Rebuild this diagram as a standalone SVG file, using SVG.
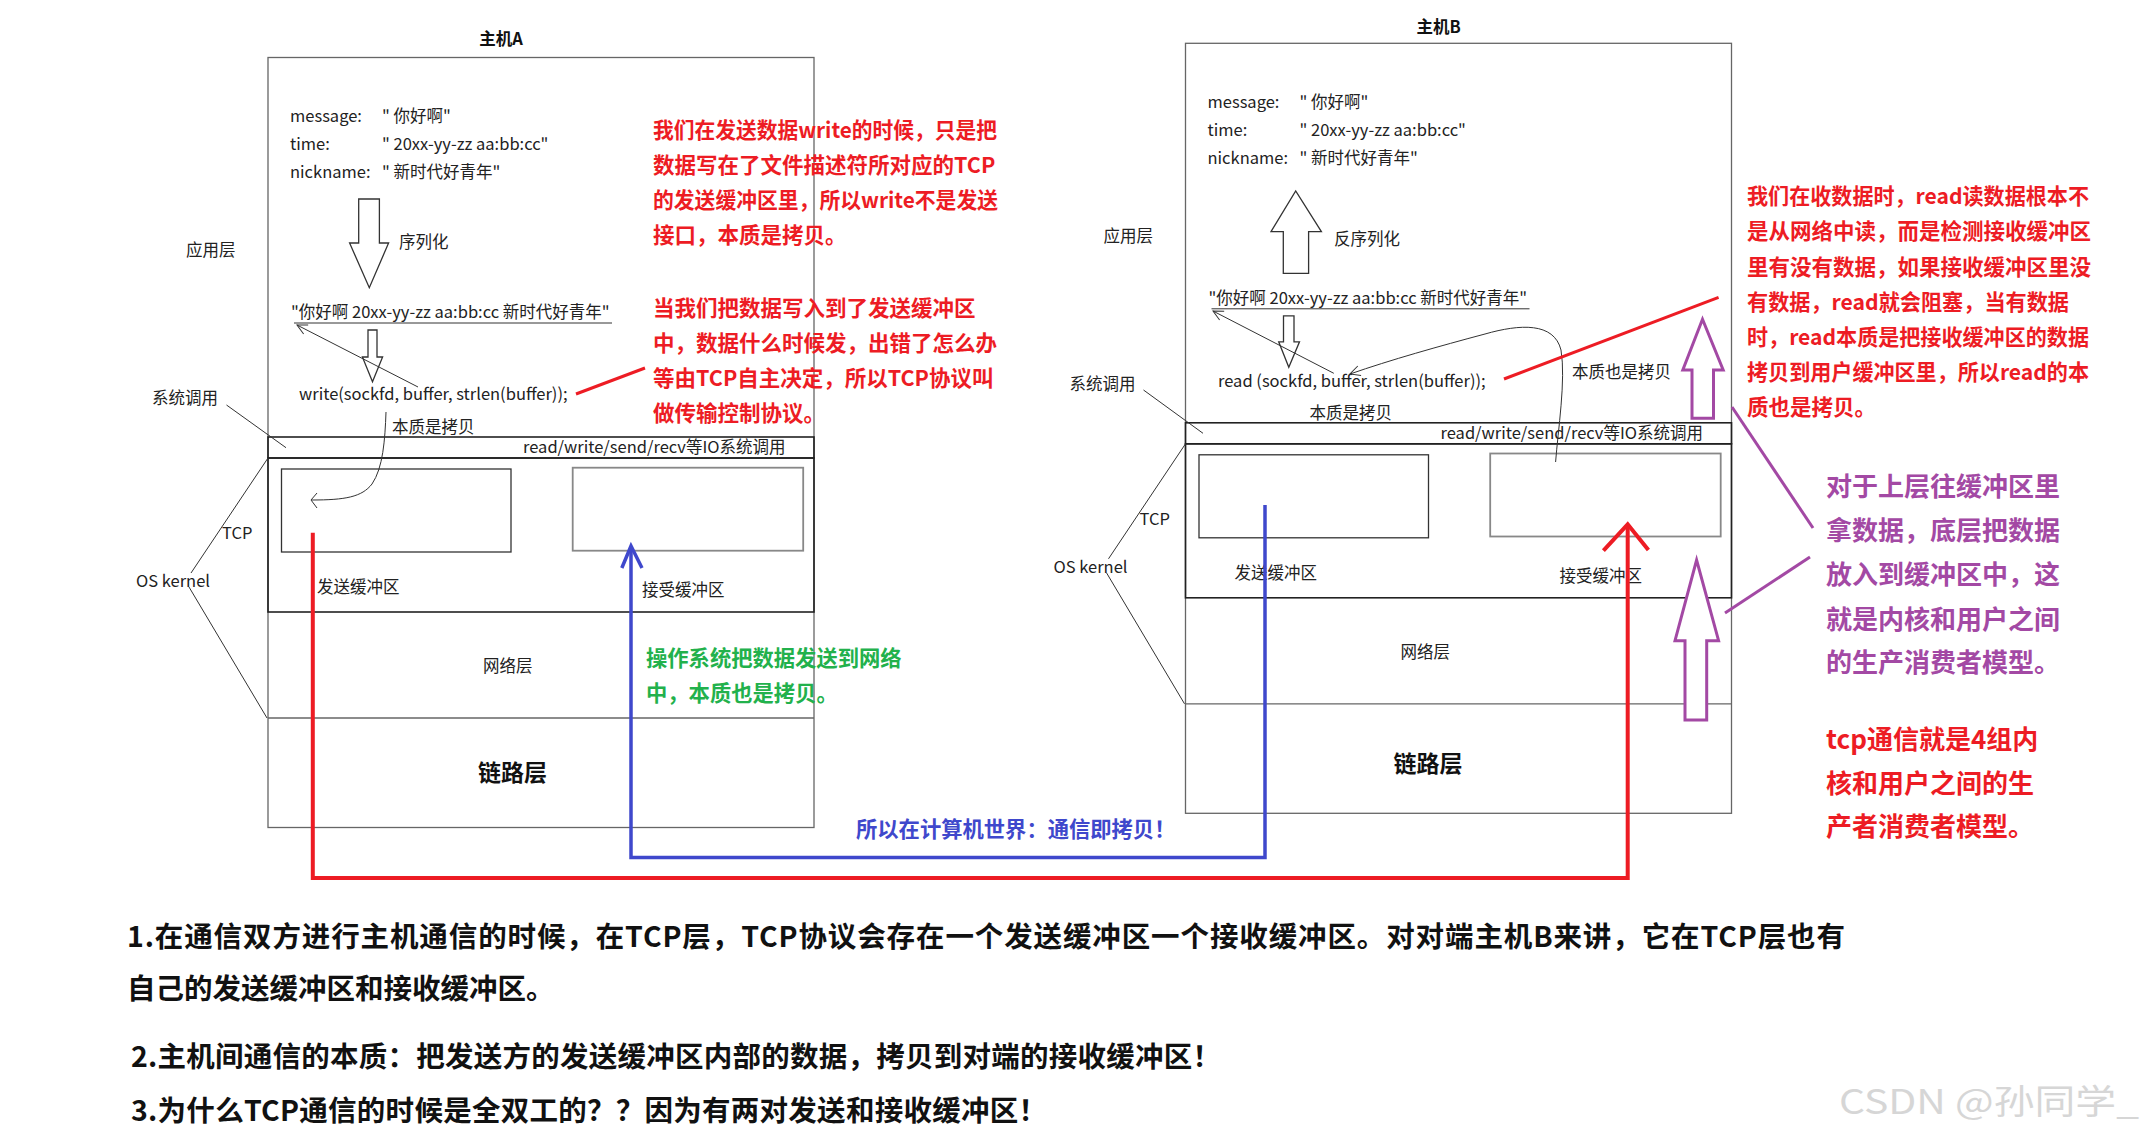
<svg xmlns="http://www.w3.org/2000/svg" width="2144" height="1137" viewBox="0 0 2144 1137">
<style>
text{font-family:"Noto Sans CJK SC","Noto Sans",sans-serif;fill:#222;font-size:16.5px}
.title{font-weight:bold;font-size:16.5px;fill:#111}
.big{font-weight:bold;font-size:23px;fill:#111}
.frame{fill:none;stroke:#666;stroke-width:1.3}
.tcp{fill:none;stroke:#222;stroke-width:1.6}
.buf{fill:none;stroke:#333;stroke-width:1.3}
.buf2{fill:none;stroke:#888;stroke-width:1.8}
.thin{fill:none;stroke:#333;stroke-width:1}
.hollow{fill:#fff;stroke:#333;stroke-width:1.3}
.red{fill:#ed1c24;font-weight:bold;font-size:21.5px}
.purple{fill:#a349a4;font-weight:bold;font-size:26px}
.red2{fill:#ed1c24;font-weight:bold;font-size:26px}
.green{fill:#22b14c;font-weight:bold;font-size:21.3px}
.blue{fill:#3f48cc;font-weight:bold;font-size:21.3px}
.note{fill:#111;font-weight:bold;font-size:28.5px}
.wm{fill:#d6d6d6;font-size:34px}
</style>
<defs>
<marker id="thinArrow" viewBox="0 0 12 12" refX="11" refY="6" markerWidth="12" markerHeight="12" markerUnits="userSpaceOnUse" orient="auto">
<path d="M1,1 L11,6 L1,11" fill="none" stroke="#333" stroke-width="1"/>
</marker>
</defs>
<rect width="2144" height="1137" fill="#fff"/>

<g id="hostA">
<text class="title" x="501" y="45" text-anchor="middle">主机A</text>
<rect class="frame" x="268" y="57.5" width="546" height="770"/>
<rect class="tcp" x="268" y="437" width="546" height="21"/>
<rect class="tcp" x="268" y="458" width="546" height="154"/>
<line class="frame" x1="268" y1="718" x2="814" y2="718"/>
<rect class="buf" x="281.5" y="469" width="229.5" height="83"/>
<rect class="buf2" x="572.7" y="467.7" width="230.5" height="83"/>
<text x="290" y="122">message:</text><text x="382" y="122">" 你好啊"</text>
<text x="290" y="150">time:</text><text x="382" y="150">" 20xx-yy-zz aa:bb:cc"</text>
<text x="290" y="178">nickname:</text><text x="382" y="178">" 新时代好青年"</text>
<path class="hollow" d="M358.7,199 H379.4 V243 H388.6 L369.3,287.7 L349.6,243 H358.7 Z"/>
<text x="399" y="248">序列化</text>
<text x="186" y="256">应用层</text>
<text x="291" y="318">"你好啊 20xx-yy-zz aa:bb:cc 新时代好青年"</text>
<line class="thin" x1="294" y1="323" x2="612" y2="323"/>
<path class="hollow" d="M368,330 H377 V357 H382.6 L372.5,381.7 L362.4,357 H368 Z"/>
<text x="299" y="400">write(sockfd, buffer, strlen(buffer));</text>
<text x="152" y="404">系统调用</text>
<text x="392" y="433">本质是拷贝</text>
<text x="523" y="453">read/write/send/recv等IO系统调用</text>
<text x="222" y="539">TCP</text>
<text x="136" y="587">OS kernel</text>
<text x="317" y="593">发送缓冲区</text>
<text x="642" y="596">接受缓冲区</text>
<text x="483" y="672">网络层</text>
<text class="big" x="478" y="781">链路层</text>
</g>

<g id="hostB">
<text class="title" x="1438.5" y="33" text-anchor="middle">主机B</text>
<g transform="translate(917.5,-14.2)">
<rect class="frame" x="268" y="57.5" width="546" height="770"/>
<rect class="tcp" x="268" y="437" width="546" height="21"/>
<rect class="tcp" x="268" y="458" width="546" height="154"/>
<line class="frame" x1="268" y1="718" x2="814" y2="718"/>
<rect class="buf" x="281.5" y="469" width="229.5" height="83"/>
<rect class="buf2" x="572.7" y="467.7" width="230.5" height="83"/>
<text x="290" y="122">message:</text><text x="382" y="122">" 你好啊"</text>
<text x="290" y="150">time:</text><text x="382" y="150">" 20xx-yy-zz aa:bb:cc"</text>
<text x="290" y="178">nickname:</text><text x="382" y="178">" 新时代好青年"</text>
<text x="186" y="256">应用层</text>
<text x="291" y="318">"你好啊 20xx-yy-zz aa:bb:cc 新时代好青年"</text>
<line class="thin" x1="294" y1="323" x2="612" y2="323"/>
<path class="hollow" d="M366,330 H376.5 V356 H382 L371.3,381.5 L361.2,356 H366 Z"/>
<text x="300.5" y="401">read (sockfd, buffer, strlen(buffer));</text>
<text x="152" y="404">系统调用</text>
<text x="392" y="433">本质是拷贝</text>
<text x="523" y="453">read/write/send/recv等IO系统调用</text>
<text x="222" y="539">TCP</text>
<text x="136" y="587">OS kernel</text>
<text x="317" y="593">发送缓冲区</text>
<text x="642" y="596">接受缓冲区</text>
<text x="483" y="672">网络层</text>
<text class="big" x="476" y="786">链路层</text>
</g>
<path class="hollow" d="M1283.3,273.3 V231.7 H1271 L1295.7,191 L1321.4,231.7 H1308.6 V273.3 Z"/>
<text x="1334" y="244.5">反序列化</text>
<text x="1572" y="377.5">本质也是拷贝</text>
</g>

<g id="noteA1">
<text class="red" x="653" y="137.5" textLength="344" lengthAdjust="spacingAndGlyphs">我们在发送数据write的时候，只是把</text>
<text class="red" x="653" y="172.7">数据写在了文件描述符所对应的TCP</text>
<text class="red" x="653" y="207.9" textLength="345" lengthAdjust="spacingAndGlyphs">的发送缓冲区里，所以write不是发送</text>
<text class="red" x="653" y="243.1">接口，本质是拷贝。</text>
</g>
<g id="noteA2">
<text class="red" x="653" y="315.8">当我们把数据写入到了发送缓冲区</text>
<text class="red" x="653" y="351">中，数据什么时候发，出错了怎么办</text>
<text class="red" x="653" y="386.2">等由TCP自主决定，所以TCP协议叫</text>
<text class="red" x="653" y="421.4">做传输控制协议。</text>
</g>
<g id="noteGreen">
<text class="green" x="646" y="666">操作系统把数据发送到网络</text>
<text class="green" x="646" y="701">中，本质也是拷贝。</text>
</g>
<g id="noteBlue">
<text class="blue" x="856" y="836.5">所以在计算机世界：通信即拷贝！</text>
</g>
<g id="noteB1">
<text class="red" x="1747" y="204.2" textLength="342" lengthAdjust="spacingAndGlyphs">我们在收数据时，read读数据根本不</text>
<text class="red" x="1747" y="239.4">是从网络中读，而是检测接收缓冲区</text>
<text class="red" x="1747" y="274.6">里有没有数据，如果接收缓冲区里没</text>
<text class="red" x="1747" y="309.8" textLength="322" lengthAdjust="spacingAndGlyphs">有数据，read就会阻塞，当有数据</text>
<text class="red" x="1747" y="345" textLength="342" lengthAdjust="spacingAndGlyphs">时，read本质是把接收缓冲区的数据</text>
<text class="red" x="1747" y="380.2" textLength="342" lengthAdjust="spacingAndGlyphs">拷贝到用户缓冲区里，所以read的本</text>
<text class="red" x="1747" y="415.4">质也是拷贝。</text>
</g>
<g id="notePurple">
<text class="purple" x="1826" y="495.7">对于上层往缓冲区里</text>
<text class="purple" x="1826" y="539.7">拿数据，底层把数据</text>
<text class="purple" x="1826" y="584">放入到缓冲区中，这</text>
<text class="purple" x="1826" y="628.5">就是内核和用户之间</text>
<text class="purple" x="1826" y="672">的生产消费者模型。</text>
</g>
<g id="noteTcp">
<text class="red2" x="1826" y="749">tcp通信就是4组内</text>
<text class="red2" x="1826" y="792.5">核和用户之间的生</text>
<text class="red2" x="1826" y="836">产者消费者模型。</text>
</g>
<g id="summary">
<text class="note" x="127" y="947" textLength="1718" lengthAdjust="spacing">1.在通信双方进行主机通信的时候，在TCP层，TCP协议会存在一个发送缓冲区一个接收缓冲区。对对端主机B来讲，它在TCP层也有</text>
<text class="note" x="127" y="998.5">自己的发送缓冲区和接收缓冲区。</text>
<text class="note" x="131" y="1067" textLength="1090" lengthAdjust="spacing">2.主机间通信的本质：把发送方的发送缓冲区内部的数据，拷贝到对端的接收缓冲区！</text>
<text class="note" x="131" y="1121" textLength="916" lengthAdjust="spacing">3.为什么TCP通信的时候是全双工的？？因为有两对发送和接收缓冲区！</text>
<text class="wm" x="1839" y="1114" textLength="300" lengthAdjust="spacingAndGlyphs">CSDN @孙同学_</text>
</g>

<g id="connectors">
<line class="thin" x1="418" y1="387" x2="297" y2="325" marker-end="url(#thinArrow)"/>
<path class="thin" d="M386,412 C385,440 383,468 372,484 C362,497 345,500 312,500"/>
<polyline class="thin" points="317,493 311,500 317,508"/>
<line class="thin" x1="226.5" y1="405" x2="286" y2="447.7"/>
<line class="thin" x1="268" y1="458" x2="191" y2="573"/>
<line class="thin" x1="189" y1="587" x2="267" y2="718"/>
<line class="thin" x1="1333.8" y1="373.3" x2="1213" y2="311" marker-end="url(#thinArrow)"/>
<path class="thin" d="M1555.6,462 C1558,430 1566,380 1561,350 C1554,322 1520,324 1485,334 C1440,346 1390,360 1350,374" marker-end="url(#thinArrow)"/>
<line class="thin" x1="1143.5" y1="390" x2="1203" y2="433.3"/>
<line class="thin" x1="1185.5" y1="443.8" x2="1108.5" y2="558.8"/>
<line class="thin" x1="1106.5" y1="572.8" x2="1184.5" y2="703.8"/>
<line x1="576" y1="394" x2="645" y2="368" stroke="#ed1c24" stroke-width="3"/>
<line x1="1504" y1="379" x2="1718.6" y2="297.3" stroke="#ed1c24" stroke-width="3"/>
<path d="M312.8,532.7 V878 H1627.7 V525" fill="none" stroke="#ed1c24" stroke-width="4"/>
<polyline points="1603.4,550.7 1627.7,524.3 1648.4,550" fill="none" stroke="#ed1c24" stroke-width="4"/>
<path d="M1265,505 V857.5 H631 V547" fill="none" stroke="#3f48cc" stroke-width="3.5"/>
<polyline points="621.8,568 631,546 642,568" fill="none" stroke="#3f48cc" stroke-width="3.5"/>
<path d="M1692,418.3 V370 H1682.8 L1702.5,319.3 L1723.2,370 H1713.5 V418.3 Z" fill="#fff" stroke="#a349a4" stroke-width="3"/>
<path d="M1685,720 V640.7 H1675 L1696.6,560 L1718.6,640.7 H1706.7 V720 Z" fill="#fff" stroke="#a349a4" stroke-width="3"/>
<line x1="1732" y1="407" x2="1813" y2="528" stroke="#a349a4" stroke-width="3"/>
<line x1="1810" y1="557" x2="1725" y2="613" stroke="#a349a4" stroke-width="3"/>
</g>
</svg>
